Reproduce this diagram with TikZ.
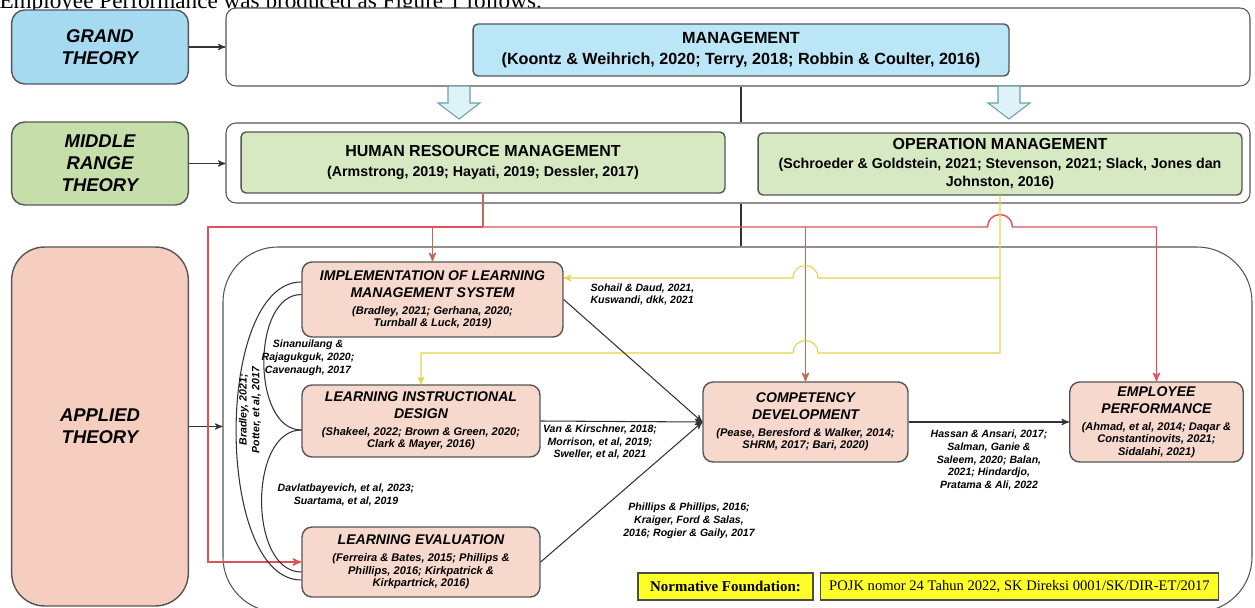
\documentclass[tikz,border=0pt]{standalone}
\usepackage{fontspec}
\setmainfont{Liberation Sans}
\newfontfamily\tnrfont{Liberation Serif}
\usetikzlibrary{arrows,positioning,fit}

\definecolor{bluedark}{RGB}{166,218,240}
\definecolor{bluelite}{RGB}{186,230,247}
\definecolor{greendark}{RGB}{198,223,170}
\definecolor{greenlite}{RGB}{214,233,194}
\definecolor{salmondark}{RGB}{246,206,192}
\definecolor{salmonlite}{RGB}{247,216,204}
\definecolor{boxline}{RGB}{85,85,85}
\definecolor{rline}{RGB}{222,82,92}
\definecolor{rdrop}{RGB}{196,104,84}
\definecolor{yline}{RGB}{226,212,70}
\definecolor{harrowfill}{RGB}{222,243,247}
\definecolor{harrowline}{RGB}{110,160,170}
\definecolor{normyellow}{RGB}{255,255,40}

\newcommand{\sideft}{\fontsize{10.5}{12.5}\selectfont\bfseries\itshape}
\newcommand{\mgfont}{\fontsize{9.2}{12}\selectfont\bfseries}
\newcommand{\topttl}{\fontsize{9.1}{11}\selectfont\bfseries}
\newcommand{\topcit}{\fontsize{8.1}{10.3}\selectfont\bfseries}
\newcommand{\appttl}{\fontsize{8}{9.7}\selectfont\bfseries\itshape}
\newcommand{\appcit}{\fontsize{6.3}{7}\selectfont\bfseries\itshape}
\newcommand{\lblft}{\fontsize{6}{7.3}\selectfont\bfseries\itshape}

\begin{document}
\begin{tikzpicture}[>=stealth',x=0.02cm,y=-0.02cm,semithick]
    \tikzstyle{cont}=[draw=boxline,fill=white,rounded corners=0.2cm,inner sep=0pt]
    \tikzstyle{side}=[draw=boxline,thick,rounded corners=0.26cm,align=flush center,minimum width=3.52cm,text width=3.3cm,font=\sideft]
    \tikzstyle{topbox}=[draw=boxline,thick,rounded corners=0.1cm,align=flush center,inner sep=1pt,font=\topcit]
    \tikzstyle{appbox}=[draw=boxline,thick,fill=salmonlite,rounded corners=0.2cm,align=flush center,inner sep=1pt,font=\appcit]
    \tikzstyle{lbl}=[font=\lblft,align=center,inner sep=0pt]
    \tikzstyle{cn}=[draw=black!80]
    \tikzstyle{redln}=[draw=rline,thick]
    \tikzstyle{dropln}=[draw=rdrop,thick]
    \tikzstyle{yelln}=[draw=yline]
    \tikzstyle{hollow}=[draw=harrowline,fill=harrowfill]
    \tikzstyle{normbox}=[draw=black!70,fill=normyellow,minimum height=0.54cm,inner sep=1pt]

    \useasboundingbox (0,0) rectangle (1255,608);

    % line of text cut off at the top
    \node[anchor=base west,inner sep=0pt,font=\tnrfont\fontsize{13.2}{15}\selectfont] (CAP) at (-1,9) {Employee Performance was produced as Figure 1 follows.};

    % the three containers
    \node[cont,fit={(226,8) (1250,86)}] (TC) {};
    \node[cont,fit={(226,123) (1250,203)}] (MC) {};
    \node[cont,rounded corners=1.1cm,fit={(223,247) (1252,612)}] (AC) {};

    % theory levels
    \node[side,fill=bluedark,minimum height=1.48cm] (GT) at (100,47) {GRAND\\ THEORY};
    \node[side,fill=greendark,minimum height=1.66cm] (MRT) at (100,163.5) {MIDDLE\\ RANGE\\ THEORY};
    \node[side,fill=salmondark,minimum height=7.18cm,rounded corners=0.66cm] (AT) at (100,426.5) {APPLIED\\ THEORY};

    \path (GT.east) edge[cn,->] (GT.east -| TC.west)
          (MRT.east) edge[cn,->] (MRT.east -| MC.west)
          (AT.east) edge[cn,->] (AT.east -| AC.west);

    \node[topbox,fill=bluelite,minimum width=10.72cm,minimum height=1.04cm,text width=10.5cm,font=\mgfont] (MG) at (741,50) {MANAGEMENT\\ (Koontz \& Weihrich, 2020; Terry, 2018; Robbin \& Coulter, 2016)\par};
    \node[topbox,fill=greenlite,minimum width=9.68cm,minimum height=1.22cm,text width=9.5cm] (HRM) at (483,162.5) {{\topttl HUMAN RESOURCE MANAGEMENT}\\[1pt] (Armstrong, 2019; Hayati, 2019; Dessler, 2017)\par};
    \node[topbox,fill=greenlite,minimum width=9.68cm,minimum height=1.24cm,text width=9.5cm] (OM) at (1000,164) {{\topttl OPERATION MANAGEMENT}\\[0.5pt] (Schroeder \& Goldstein, 2021; Stevenson, 2021; Slack, Jones dan\\ Johnston, 2016)\par};

    \draw[cn] (TC.south -| MG.south) -- (MC.north -| MG.south);
    \draw[cn] (MC.south -| MG.south) -- (AC.north -| MG.south);

    \foreach \ax in {459,1009}
      \draw[hollow] ({\ax-11},86) -- ({\ax+11},86) -- ({\ax+11},103) -- ({\ax+21},103) -- (\ax,119) -- ({\ax-21},103) -- ({\ax-11},103) -- cycle;

    % applied theory
    \node[appbox,minimum width=5.22cm,minimum height=1.5cm,text width=5.1cm] (IMP) at (432.5,299.5) {{\appttl IMPLEMENTATION OF LEARNING\\[2.7pt] MANAGEMENT SYSTEM}\\[2.7pt] (Bradley, 2021; Gerhana, 2020;\\ Turnball \& Luck, 2019)\par};
    \node[appbox,minimum width=4.76cm,minimum height=1.44cm,text width=4.6cm] (LID) at (421,421) {{\appttl LEARNING INSTRUCTIONAL\\[2.7pt] DESIGN}\\[2.7pt] (Shakeel, 2022; Brown \& Green, 2020;\\ Clark \& Mayer, 2016)\par};
    \node[appbox,minimum width=4.76cm,minimum height=1.4cm,text width=4.6cm] (LE) at (421,562) {{\appttl LEARNING EVALUATION}\\[2.7pt] (Ferreira \& Bates, 2015; Phillips \&\\ Phillips, 2016; Kirkpatrick \&\\ Kirkpartrick, 2016)\par};
    \node[appbox,minimum width=4.1cm,minimum height=1.6cm,text width=4.0cm] (CD) at (805.5,422) {{\appttl COMPETENCY\\[2.7pt] DEVELOPMENT}\\[2.7pt] (Pease, Beresford \& Walker, 2014;\\ SHRM, 2017; Bari, 2020)\par};
    \node[appbox,minimum width=3.46cm,minimum height=1.6cm,text width=3.4cm] (EP) at (1156.5,422) {{\appttl EMPLOYEE\\[2.7pt] PERFORMANCE}\\[2.7pt] (Ahmad, et al, 2014; Daqar \&\\ Constantinovits, 2021;\\ Sidalahi, 2021)\par};

    \node[normbox,minimum width=3.5cm,font=\tnrfont\fontsize{8.5}{10}\selectfont\bfseries] (NF) at (725.5,586.5) {Normative Foundation:};
    \node[normbox,minimum width=7.98cm,font=\tnrfont\fontsize{8.3}{10}\selectfont] (PJ) at (1019.5,586.5) {POJK nomor 24 Tahun 2022, SK Direksi 0001/SK/DIR-ET/2017};

    % red and yellow lines
    \coordinate (RY) at (0,227);
    \coordinate (RL) at (208,0);
    \coordinate (YT) at (0,278);
    \coordinate (YB) at (0,353);
    \coordinate (RH) at (OM.south |- RY);
    \coordinate (YH1) at (CD.north |- YT);
    \coordinate (YH2) at (CD.north |- YB);

    \draw[dropln] (HRM.south) -- (HRM.south |- RY);
    \draw[redln,->] (HRM.south |- RY) -- (RL |- RY) -- (RL |- LE.west) -- (LE.west);
    \draw[redln,->] (HRM.south |- RY) -- ([xshift=-0.25cm]RH) arc (180:0:0.25cm) -- (EP.north |- RY) -- (EP.north);
    \draw[dropln,->] (IMP.north |- RY) -- (IMP.north);
    \draw[dropln,->] (CD.north |- RY) -- (CD.north);

    \draw[yelln,->] (OM.south) -- (OM.south |- YB) -- ([xshift=0.25cm]YH2) arc (0:180:0.25cm) -- (LID.north |- YB) -- (LID.north);
    \draw[yelln,->] (OM.south |- YT) -- ([xshift=0.25cm]YH1) arc (0:180:0.25cm) -- (IMP.east |- YT);

    % black links
    \path (IMP.east) edge[cn,->] (CD.west)
          (LID.east) edge[cn,->] (CD.west)
          (LE.east) edge[cn,->] (CD.west)
          (CD.east) edge[cn,->] (EP.west);

    \draw[cn] ([yshift=0.35cm]IMP.west) .. controls +(-87,0) and +(-87,0) .. ([yshift=-0.36cm]LE.west);
    \draw[cn] ([yshift=0.1cm]IMP.west) .. controls +(-50,0) and +(-50,0) .. ([yshift=-0.18cm]LID.west);
    \draw[cn] ([yshift=-0.18cm]LID.west) .. controls +(-53,0) and +(-53,0) .. ([yshift=-0.2cm]LE.west);

    % labels
    \node[lbl,anchor=north west,align=left] (L1) at (590,283) {Sohail \& Daud, 2021,\\ Kuswandi, dkk, 2021};
    \node[lbl] (L2) at (600,442) {Van \& Kirschner, 2018;\\ Morrison, et al, 2019;\\ Sweller, et al, 2021};
    \node[lbl] (L3) at (689,521) {Phillips \& Phillips, 2016;\\ Kraiger, Ford \& Salas,\\ 2016; Rogier \& Gaily, 2017};
    \node[lbl] (L4) at (989,460) {Hassan \& Ansari, 2017;\\ Salman, Ganie \&\\ Saleem, 2020; Balan,\\ 2021; Hindardjo,\\ Pratama \& Ali, 2022};
    \node[lbl] (L5) at (308,358) {Sinanuilang \&\\ Rajagukguk, 2020;\\ Cavenaugh, 2017};
    \node[lbl] (L6) at (346,495) {Davlatbayevich, et al, 2023;\\ Suartama, et al, 2019};
    \node[lbl,rotate=90] (L7) at (250,410) {Bradley, 2021;\\ Potter, et al, 2017};
\end{tikzpicture}
\end{document}
